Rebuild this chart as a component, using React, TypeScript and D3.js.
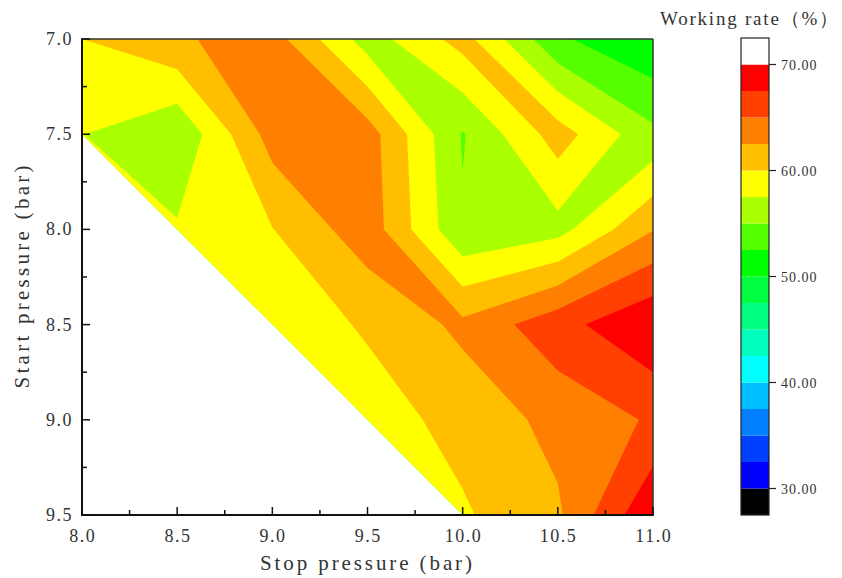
import React, { useMemo } from "react";
import * as d3 from "d3";

// Grid of the measurement (stop pressure across, start pressure down)
const stopPressure = [8.0, 8.5, 9.0, 9.5, 10.0, 10.5, 11.0];
const startPressure = [7.0, 7.5, 8.0, 8.5, 9.0, 9.5];

// Working rate (%) — one row per start pressure, one value per stop pressure (NaN = not measured)
const rateStart70 = [60.0, 62.2, 63.6, 56.3, 61.0, 52.9, 50.3];
const rateStart75 = [57.55, 55.3, 63.6, 63.7, 54.8, 61.2, 55.6];
const rateStart80 = [NaN, 57.8, 59.93, 64.0, 55.3, 56.6, 62.4];
const rateStart85 = [NaN, NaN, 58.5, 60.3, 63.1, 66.6, 69.7];
const rateStart90 = [NaN, NaN, NaN, 58.9, 60.8, 63.3, 65.3];
const rateStart95 = [NaN, NaN, NaN, NaN, 59.7, 62.1, 69.8];
const workingRate = [rateStart70, rateStart75, rateStart80, rateStart85, rateStart90, rateStart95];

// Grid cells (stop, start of their top-left node) whose saddles join along the TR–BL diagonal
const crossSplitCells = [[10.5, 7.5]];

const levelBreaks = [27.5, 30, 32.5, 35, 37.5, 40, 42.5, 45, 47.5, 50, 52.5, 55, 57.5, 60, 62.5, 65, 67.5, 70, 72.5];
const levelColors = [
  "#000000", "#0000FF", "#0040FF", "#0080FF", "#00BFFF", "#00FFFF", "#00FFBF", "#00FF80", "#00FF40",
  "#00FF00", "#55FF00", "#AAFF00", "#FFFF00", "#FFBF00", "#FF8000", "#FF4000", "#FF0000", "#FFFFFF",
];
const colorbarTicks = [30, 40, 50, 60, 70];
const xMajor = [8.0, 8.5, 9.0, 9.5, 10.0, 10.5, 11.0];
const xMinor = [8.25, 8.75, 9.25, 9.75, 10.25, 10.75];
const yMajor = [7.0, 7.5, 8.0, 8.5, 9.0, 9.5];
const yMinor = [7.25, 7.75, 8.25, 8.75, 9.25];

const FONT = "'Liberation Serif', 'DejaVu Serif', serif";

type Pt = [number, number];
type Corner = { p: Pt; v: number };

// Marching squares on the measured grid: region where rate >= t, as polygons in data units
function regionAbove(t: number): Pt[][] {
  const polys: Pt[][] = [];
  for (let j = 0; j < startPressure.length - 1; j++) {
    for (let i = 0; i < stopPressure.length - 1; i++) {
      const corners: Corner[] = [
        { p: [stopPressure[i], startPressure[j]], v: workingRate[j][i] },
        { p: [stopPressure[i + 1], startPressure[j]], v: workingRate[j][i + 1] },
        { p: [stopPressure[i + 1], startPressure[j + 1]], v: workingRate[j + 1][i + 1] },
        { p: [stopPressure[i], startPressure[j + 1]], v: workingRate[j + 1][i] },
      ].filter((c) => !isNaN(c.v));
      const n = corners.length;
      if (n < 3) continue;
      const above = corners.map((c) => c.v >= t);
      if (!above.some(Boolean)) continue;
      const cross = (a: Corner, b: Corner): Pt => {
        const r = (t - a.v) / (b.v - a.v);
        return [a.p[0] + r * (b.p[0] - a.p[0]), a.p[1] + r * (b.p[1] - a.p[1])];
      };
      if (n === 4 && above[0] === above[2] && above[1] === above[3] && above[0] !== above[1]) {
        const tlbrJoined = !crossSplitCells.some(
          ([cx, cy]) => cx === stopPressure[i] && cy === startPressure[j]
        );
        const aboveIsTLBR = above[0];
        if (aboveIsTLBR !== tlbrJoined) {
          const idx = aboveIsTLBR ? [0, 2] : [1, 3];
          for (const k of idx) {
            const prev = corners[(k + 3) % 4];
            const cur = corners[k];
            const next = corners[(k + 1) % 4];
            polys.push([cross(prev, cur), cur.p, cross(cur, next)]);
          }
          continue;
        }
      }
      const poly: Pt[] = [];
      for (let k = 0; k < n; k++) {
        const a = corners[k];
        const b = corners[(k + 1) % n];
        if (above[k]) poly.push(a.p);
        if (above[k] !== above[(k + 1) % n]) poly.push(cross(a, b));
      }
      polys.push(poly);
    }
  }
  return polys;
}

export default function App() {
  const W = 842;
  const H = 578;
  const x = d3.scaleLinear().domain([8, 11]).range([82, 653]);
  const y = d3.scaleLinear().domain([7, 9.5]).range([39, 515]);
  const c = d3.scaleLinear().domain([27.5, 72.5]).range([515, 38]);

  const bands = useMemo(() => {
    const measured = workingRate.flat().filter((d) => !isNaN(d));
    const minV = d3.min(measured) as number;
    const base = levelBreaks.filter((b) => b <= minV).pop() as number;
    const out: { d: string; color: string; key: number }[] = [];
    levelBreaks.slice(0, -1).forEach((t, k) => {
      if (t < base) return;
      const polys = regionAbove(t);
      if (!polys.length) return;
      const p = d3.path();
      polys.forEach((poly) => {
        poly.forEach(([a, b], m) => (m === 0 ? p.moveTo(x(a), y(b)) : p.lineTo(x(a), y(b))));
        p.closePath();
      });
      out.push({ d: p.toString(), color: levelColors[k], key: t });
    });
    return out;
  }, []);

  const cbX = 741;
  const cbW = 28;
  const fmt1 = d3.format(".1f");
  const fmt2 = d3.format(".2f");

  return (
    <svg
      width={W}
      height={H}
      style={{ position: "absolute", left: 0, top: 0, background: "#fff" }}
      fontFamily={FONT}
    >
      <g>
        {bands.map((b) => (
          <path key={b.key} d={b.d} fill={b.color} stroke="none" />
        ))}
      </g>

      {/* frame */}
      <line x1={x(8)} x2={x(11)} y1={y(7)} y2={y(7)} stroke="#333" strokeWidth={1.5} />
      <line x1={x(11)} x2={x(11)} y1={y(7)} y2={y(9.5)} stroke="#333" strokeWidth={1.5} />
      <line x1={x(8)} x2={x(8)} y1={y(7) - 0.75} y2={y(9.5) + 1} stroke="#111" strokeWidth={2} />
      <line x1={x(8) - 1} x2={x(11) + 0.75} y1={y(9.5)} y2={y(9.5)} stroke="#111" strokeWidth={2} />

      {/* x ticks */}
      {xMajor.map((t) => (
        <line key={"xM" + t} x1={x(t)} x2={x(t)} y1={y(9.5)} y2={y(9.5) - 8} stroke="#111" strokeWidth={1.5} />
      ))}
      {xMinor.map((t) => (
        <line key={"xm" + t} x1={x(t)} x2={x(t)} y1={y(9.5)} y2={y(9.5) - 5} stroke="#111" strokeWidth={1.5} />
      ))}
      {xMajor.map((t) => (
        <text
          key={"xl" + t}
          x={x(t) + 0.75}
          y={542}
          textAnchor="middle"
          fontSize={18}
          letterSpacing={1.5}
          fill="#333"
        >
          {fmt1(t)}
        </text>
      ))}

      {/* y ticks */}
      {yMajor.map((t) => (
        <line key={"yM" + t} x1={x(8)} x2={x(8) + 8} y1={y(t)} y2={y(t)} stroke="#111" strokeWidth={1.5} />
      ))}
      {yMinor.map((t) => (
        <line key={"ym" + t} x1={x(8)} x2={x(8) + 5} y1={y(t)} y2={y(t)} stroke="#111" strokeWidth={1.5} />
      ))}
      {yMajor.map((t) => (
        <text
          key={"yl" + t}
          x={73}
          y={y(t) + 6}
          textAnchor="end"
          fontSize={18}
          letterSpacing={1.5}
          fill="#333"
        >
          {fmt1(t)}
        </text>
      ))}

      {/* axis titles */}
      <text x={366} y={570} textAnchor="middle" fontSize={21} textLength={212} lengthAdjust="spacing" fill="#333">
        Stop pressure (bar)
      </text>
      <text
        transform={`translate(29, ${(y(7) + y(9.5)) / 2}) rotate(-90)`}
        textAnchor="middle"
        fontSize={21}
        textLength={223}
        lengthAdjust="spacing"
        fill="#333"
      >
        Start pressure (bar)
      </text>

      {/* colour bar */}
      {levelColors.map((col, i) => (
        <rect
          key={"cb" + i}
          x={cbX}
          y={c(levelBreaks[i + 1])}
          width={cbW}
          height={c(levelBreaks[i]) - c(levelBreaks[i + 1])}
          fill={col}
        />
      ))}
      <rect
        x={cbX}
        y={c(levelBreaks[levelBreaks.length - 1])}
        width={cbW}
        height={c(levelBreaks[0]) - c(levelBreaks[levelBreaks.length - 1])}
        fill="none"
        stroke="#222"
        strokeWidth={1.2}
      />
      {colorbarTicks.map((t) => (
        <g key={"ct" + t}>
          <line x1={cbX + cbW} x2={cbX + cbW + 7} y1={c(t)} y2={c(t)} stroke="#222" strokeWidth={1.2} />
          <text x={781} y={c(t) + 5} fontSize={14} letterSpacing={1} fill="#333">
            {fmt2(t)}
          </text>
        </g>
      ))}
      <text x={660} y={25} fontSize={19} textLength={178} lengthAdjust="spacing" fill="#333">
        Working rate（%）
      </text>
    </svg>
  );
}
